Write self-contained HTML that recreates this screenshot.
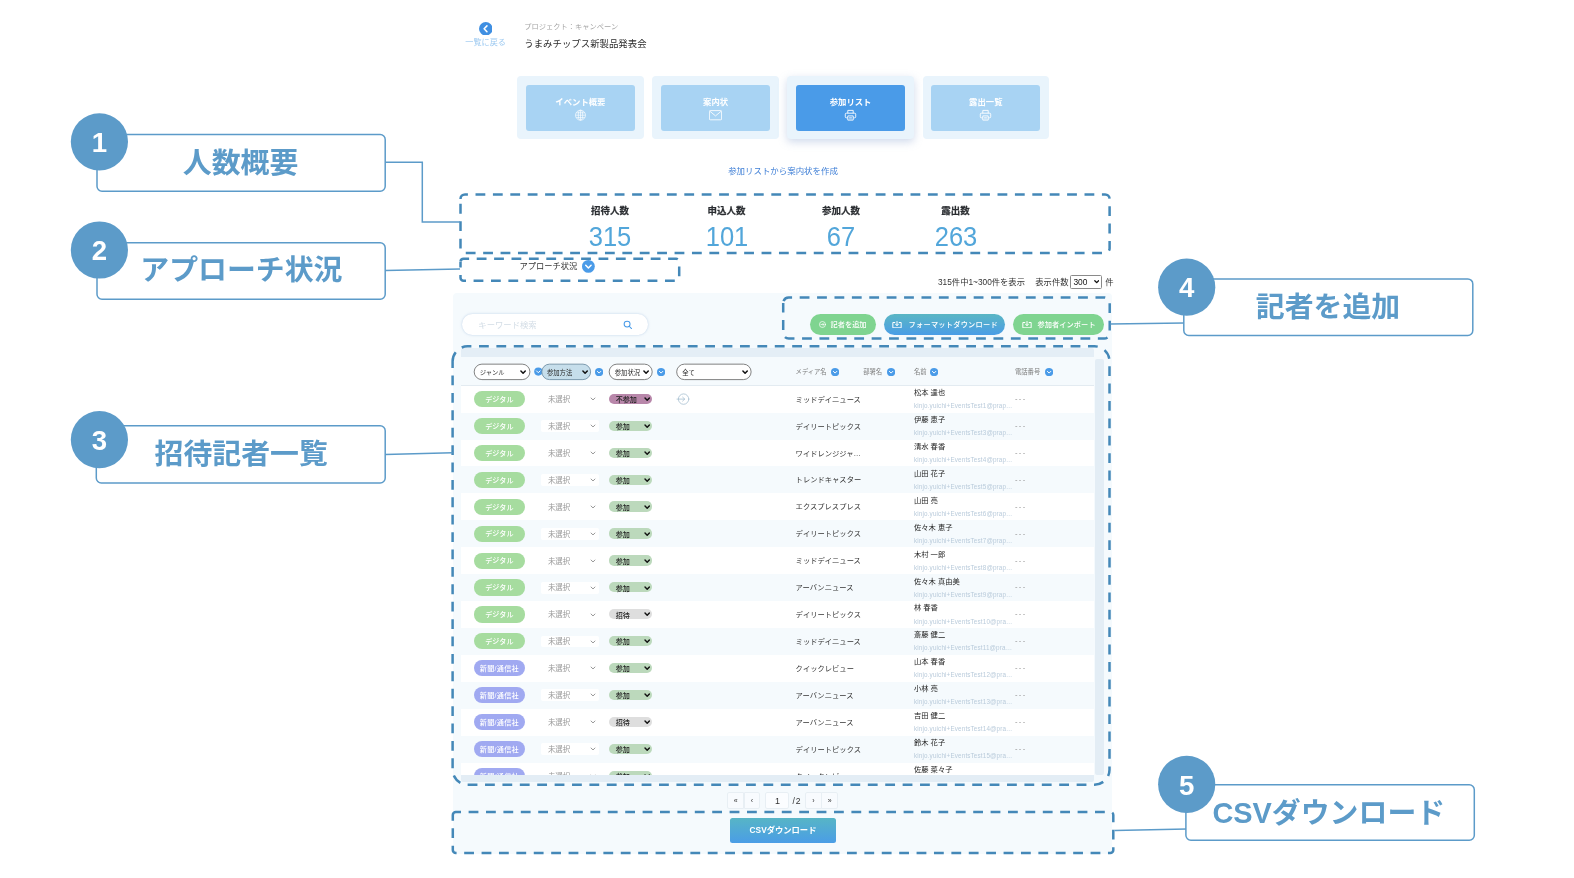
<!DOCTYPE html><html lang="ja"><head><meta charset="utf-8"><title>参加リスト</title><style>
*{box-sizing:border-box}
html,body{margin:0;padding:0}
body{width:1574px;height:878px;position:relative;overflow:hidden;background:#fff;will-change:transform;font-family:"Liberation Sans", "Noto Sans CJK JP", sans-serif;color:#333}
.a{position:absolute;white-space:nowrap}
.t{position:absolute;white-space:nowrap;line-height:1;transform:translateY(-50%)}
.tc{position:absolute;white-space:nowrap;line-height:1;transform:translate(-50%,-50%)}
.card{position:absolute;background:#e9f4fc;border-radius:4px}
.card i{position:absolute;left:8.6px;right:8.7px;top:8.4px;bottom:8.2px;border-radius:3px;background:#a8d3f3;display:block}
.card.on{box-shadow:0 3px 8px rgba(120,150,200,.35)}
.card.on i{background:#4a9be8}
.card b{position:absolute;left:0;right:0;top:20.5px;text-align:center;color:#fff;font-size:8.35px;line-height:10px;font-weight:700}
.card svg{position:absolute;left:50%;top:32.6px;margin-left:-6.5px}
.lab{position:absolute;font-size:9.45px;font-weight:700;color:#2a2d31;-webkit-text-stroke:.22px #2a2d31;line-height:1;transform:translate(-50%,-50%);white-space:nowrap}
.num{position:absolute;font-size:27.6px;font-weight:300;color:#52a6da;line-height:1;transform:translate(-50%,-50%) scaleX(.925);white-space:nowrap}
.sel{position:absolute;height:15.5px;font-size:6.3px;line-height:15.5px;padding-left:5.6px;padding-top:.5px;color:#2a2a2a;white-space:nowrap}
.chev{position:absolute}
.row{position:absolute;left:461px;width:633.3px;height:26.92px;background:#fff}
.row.e{background:#f5fafd}
.pill{position:absolute;left:12.9px;top:5.3px;width:51px;height:16.2px;border-radius:8.1px;color:#fff;font-size:7.1px;line-height:16.2px;padding-top:.9px;text-align:center;font-weight:500}
.g{background:#a6dc9f}
.p{background:#a0a9f1;letter-spacing:.3px}
.ms{position:absolute;left:86.9px;top:14.3px;font-size:7.45px;color:#999;line-height:1;transform:translateY(-50%)}
.msb{position:absolute;left:80.3px;top:7.6px;width:58px;height:11.8px;background:#fff;border-radius:2px}
.st{position:absolute;left:148.1px;top:8.1px;width:43px;height:10.2px;border-radius:5.1px;font-size:7.1px;line-height:10.2px;padding-left:6.6px;padding-top:1.4px;color:#222;font-weight:500}
.st.y{background:#bcd9bc}
.st.n{background:#b887aa}
.st.i{background:#dedede}
.md{position:absolute;left:334.6px;top:14px;font-size:7.3px;color:#333;line-height:1;transform:translateY(-50%);font-weight:400}
.nm{position:absolute;left:453px;top:7.4px;font-size:7.3px;color:#222;line-height:1;transform:translateY(-50%);font-weight:400}
.em{position:absolute;left:453px;top:20.5px;font-size:6.3px;letter-spacing:.15px;color:#b9cbdb;line-height:1;transform:translateY(-50%)}
.ph{position:absolute;left:554px;top:13.3px;font-size:7.6px;color:#8f8f8f;line-height:1;transform:translateY(-50%);letter-spacing:1.3px}
.hd{position:absolute;font-size:6.3px;color:#7c7c7c;line-height:1;transform:translateY(-50%);white-space:nowrap}
.btn{position:absolute;top:314.2px;height:21px;border-radius:10.5px;color:#fff;font-size:7.2px;font-weight:500;line-height:21px;white-space:nowrap}
.pg{position:absolute;top:792.3px;height:16.8px;background:#f8fbfe;border:1px solid #e8eff4;font-size:7px;line-height:15px;text-align:center;color:#333}
</style></head><body>
<svg class="a" style="left:478.9px;top:21.6px" width="13.6" height="13.6" viewBox="0 0 13 13"><circle cx="6.5" cy="6.5" r="6.5" fill="#3f8fe2"/><path d="M7.6 3.7 L4.9 6.5 L7.6 9.3" fill="none" stroke="#fff" stroke-width="1.5" stroke-linecap="round" stroke-linejoin="round"/></svg>
<div class="tc" style="left:485.6px;top:42.6px;font-size:8.15px;color:#9ecaf1">一覧に戻る</div>
<div class="t" style="left:524.3px;top:27px;font-size:7.25px;color:#a5a5a5">プロジェクト：キャンペーン</div>
<div class="t" style="left:524.3px;top:44.1px;font-size:9.42px;color:#2c2c2c">うまみチップス新製品発表会</div>
<div class="card" style="left:517.1px;top:76.2px;width:126.6px;height:62.8px"><i></i><b>イベント概要</b><svg width="13" height="12" viewBox="0 0 13 12" fill="none" stroke="#fff" stroke-width="0.65"><circle cx="6.5" cy="6.2" r="5"/><ellipse cx="6.5" cy="6.2" rx="2.2" ry="5"/><path d="M1.5 6.2H11.5M2.2 3.8H10.8M2.2 8.6H10.8M6.5 1.2V11.2"/></svg></div>
<div class="card" style="left:652.3px;top:76.2px;width:126.6px;height:62.8px"><i></i><b>案内状</b><svg width="13" height="12" viewBox="0 0 13 12" fill="none" stroke="#fff" stroke-width="0.85" stroke-linejoin="round"><rect x="0.4" y="1.6" width="12.2" height="9.2" rx="0.8"/><path d="M0.8 2.2 L6.5 6.9 L12.2 2.2"/></svg></div>
<div class="card on" style="left:787.3px;top:76.2px;width:126.6px;height:62.8px"><i></i><b>参加リスト</b><svg width="13" height="12" viewBox="0 0 13 12" fill="none" stroke="#fff" stroke-width="0.9" stroke-linejoin="round"><path d="M3.8 4.2V1.4H9.2V4.2"/><path d="M3.7 8.8H2.3A1 1 0 0 1 1.3 7.8V5.2A1 1 0 0 1 2.3 4.2H10.7A1 1 0 0 1 11.7 5.2V7.8A1 1 0 0 1 10.7 8.8H9.3"/><rect x="3.8" y="6.9" width="5.4" height="4.2"/><path d="M5.1 8.5H7.9M5.1 9.8H7.9" stroke-width="0.6"/></svg></div>
<div class="card" style="left:922.5px;top:76.2px;width:126.6px;height:62.8px"><i></i><b>露出一覧</b><svg width="13" height="12" viewBox="0 0 13 12" fill="none" stroke="#fff" stroke-width="0.9" stroke-linejoin="round"><path d="M3.8 4.2V1.4H9.2V4.2"/><path d="M3.7 8.8H2.3A1 1 0 0 1 1.3 7.8V5.2A1 1 0 0 1 2.3 4.2H10.7A1 1 0 0 1 11.7 5.2V7.8A1 1 0 0 1 10.7 8.8H9.3"/><rect x="3.8" y="6.9" width="5.4" height="4.2"/><path d="M5.1 8.5H7.9M5.1 9.8H7.9" stroke-width="0.6"/></svg></div>
<div class="tc" style="left:783px;top:171px;font-size:8.45px;color:#3f7fd6">参加リストから案内状を作成</div>
<div class="lab" style="left:610px;top:210.6px">招待人数</div>
<div class="num" style="left:610px;top:237.4px">315</div>
<div class="lab" style="left:726.5px;top:210.6px">申込人数</div>
<div class="num" style="left:726.5px;top:237.4px">101</div>
<div class="lab" style="left:841px;top:210.6px">参加人数</div>
<div class="num" style="left:841px;top:237.4px">67</div>
<div class="lab" style="left:955.5px;top:210.6px">露出数</div>
<div class="num" style="left:955.5px;top:237.4px">263</div>
<div class="t" style="left:519.5px;top:267.1px;font-size:8.26px;color:#333">アプローチ状況</div>
<svg class="a" style="left:582.20px;top:260.30px" width="12.8" height="12.8" viewBox="0 0 10 10"><circle cx="5" cy="5" r="5" fill="#4a9be8"/><path d="M2.9 4.1 L5 6.2 L7.1 4.1" fill="none" stroke="#fff" stroke-width="1.2" stroke-linecap="round" stroke-linejoin="round"/></svg>
<div class="t" style="left:938px;top:282.3px;font-size:8.3px;color:#333">315件中1~300件を表示</div>
<div class="t" style="left:1035.3px;top:282.3px;font-size:8.3px;color:#333">表示件数</div>
<div class="a" style="left:1070px;top:274.9px;width:32.4px;height:13.8px;border:1px solid #8a8a8a;background:#fff;border-radius:1.5px;font-size:8.4px;line-height:12px;padding-left:2.4px;color:#111">300</div>
<svg class="a" style="left:1093.60px;top:279.10px" width="5.4" height="5.4" viewBox="0 0 10 10"><path d="M1.5 3.2 L5 6.8 L8.5 3.2" fill="none" stroke="#111" stroke-width="2.41" stroke-linecap="round" stroke-linejoin="round"/></svg>
<div class="t" style="left:1105.2px;top:282.3px;font-size:8.3px;color:#333">件</div>
<div class="a" style="left:453px;top:293.2px;width:659.4px;height:560.6px;background:#f5fafd;border-radius:4px"></div>
<div class="a" style="left:462.3px;top:314.2px;width:186.1px;height:20.8px;border-radius:10.4px;background:#fff;box-shadow:0 0 2.5px rgba(140,175,215,.55)"></div>
<div class="t" style="left:478.3px;top:324.8px;font-size:8.35px;color:#d3dde6">キーワード検索</div>
<svg class="a" style="left:623.3px;top:320.4px" width="9.6" height="9.6" viewBox="0 0 11 11" fill="none" stroke="#4a9be8" stroke-width="1.15" stroke-linecap="round"><circle cx="4.7" cy="4.7" r="3.4"/><path d="M7.3 7.3L9.8 9.8"/></svg>
<div class="btn" style="left:810px;width:66.3px;background:#7fd490;padding-left:20.6px"><svg class="a" style="left:9px;top:7px" width="7" height="7" viewBox="0 0 10 10" fill="none" stroke="#fff" stroke-width="1" stroke-linecap="round" stroke-linejoin="round"><circle cx="5" cy="5" r="4.3"/><path d="M2.8 5H7M5.4 3.3L7.1 5L5.4 6.7"/></svg>記者を追加</div>
<div class="btn" style="left:884px;width:121px;background:linear-gradient(180deg,#5ab6c4 0%,#4a9de6 100%);padding-left:24.6px;letter-spacing:.25px"><svg class="a" style="left:8.4px;top:6.6px" width="10" height="7.5" viewBox="0 0 12 9" fill="none" stroke="#fff" stroke-width="1.2" stroke-linecap="round" stroke-linejoin="round"><path d="M3.4 1.8H1V8.2H11V1.8H8.6"/><path d="M6 0.6V5.4M4.2 3.7L6 5.5L7.8 3.7"/></svg>フォーマットダウンロード</div>
<div class="btn" style="left:1013.2px;width:91.3px;background:#7fd490;padding-left:24.2px;letter-spacing:.1px"><svg class="a" style="left:8.6px;top:6.6px" width="10" height="7.5" viewBox="0 0 12 9" fill="none" stroke="#fff" stroke-width="1.2" stroke-linecap="round" stroke-linejoin="round"><path d="M3.4 1.8H1V8.2H11V1.8H8.6"/><path d="M6 0.6V5.4M4.2 3.7L6 5.5L7.8 3.7"/></svg>参加者インポート</div>
<div class="a" style="left:461px;top:348.3px;width:633.3px;height:8.8px;background:#e4eef6;border-radius:2px 2px 0 0"></div>
<div class="a" style="left:1095px;top:359px;width:9.4px;height:415.8px;background:#e3edf5;border-radius:2px"></div>
<div class="a" style="left:461px;top:385px;width:633.3px;height:1px;background:#e3ebf1"></div>
<svg class="a" style="left:0;top:0" width="1574" height="400" viewBox="0 0 1574 400"><circle cx="538.3" cy="371.6" r="4.1" fill="#4a9be8"/><path d="M536.5 370.9L538.3 372.7L540.1 370.9" fill="none" stroke="#fff" stroke-width="1" stroke-linecap="round" stroke-linejoin="round"/><rect x="474.2" y="364.15" width="55.7" height="15.45" rx="7.7" fill="#fff" stroke="#6b6b6b" stroke-width=".85"/><rect x="541.8" y="364.15" width="48.8" height="15.45" rx="7.7" fill="#c6deeb" stroke="#6a8aa0" stroke-width=".85"/><rect x="609.2" y="364.15" width="43" height="15.45" rx="7.7" fill="#fff" stroke="#6b6b6b" stroke-width=".85"/><rect x="676.7" y="364.15" width="74.4" height="15.45" rx="7.7" fill="#fff" stroke="#6b6b6b" stroke-width=".85"/></svg>
<div class="sel" style="left:474.2px;top:364.1px;width:55.6px">ジャンル</div><svg class="a" style="left:520.40px;top:368.90px" width="6.2" height="6.2" viewBox="0 0 10 10"><path d="M1.5 3.2 L5 6.8 L8.5 3.2" fill="none" stroke="#111" stroke-width="2.42" stroke-linecap="round" stroke-linejoin="round"/></svg>
<div class="sel" style="left:541.4px;top:364.1px;width:49px">参加方法</div><svg class="a" style="left:581.60px;top:368.90px" width="6.2" height="6.2" viewBox="0 0 10 10"><path d="M1.5 3.2 L5 6.8 L8.5 3.2" fill="none" stroke="#111" stroke-width="2.42" stroke-linecap="round" stroke-linejoin="round"/></svg>
<svg class="a" style="left:594.80px;top:367.50px" width="8.2" height="8.2" viewBox="0 0 10 10"><circle cx="5" cy="5" r="5" fill="#4a9be8"/><path d="M2.9 4.1 L5 6.2 L7.1 4.1" fill="none" stroke="#fff" stroke-width="1.2" stroke-linecap="round" stroke-linejoin="round"/></svg>
<div class="sel" style="left:609.2px;top:364.1px;width:43px">参加状況</div><svg class="a" style="left:643.10px;top:368.90px" width="6.2" height="6.2" viewBox="0 0 10 10"><path d="M1.5 3.2 L5 6.8 L8.5 3.2" fill="none" stroke="#111" stroke-width="2.42" stroke-linecap="round" stroke-linejoin="round"/></svg>
<svg class="a" style="left:656.90px;top:367.50px" width="8.2" height="8.2" viewBox="0 0 10 10"><circle cx="5" cy="5" r="5" fill="#4a9be8"/><path d="M2.9 4.1 L5 6.2 L7.1 4.1" fill="none" stroke="#fff" stroke-width="1.2" stroke-linecap="round" stroke-linejoin="round"/></svg>
<div class="sel" style="left:676.6px;top:364.1px;width:74.4px">全て</div><svg class="a" style="left:741.90px;top:368.90px" width="6.2" height="6.2" viewBox="0 0 10 10"><path d="M1.5 3.2 L5 6.8 L8.5 3.2" fill="none" stroke="#111" stroke-width="2.42" stroke-linecap="round" stroke-linejoin="round"/></svg>
<div class="hd" style="left:795.6px;top:372.2px">メディア名</div><svg class="a" style="left:830.60px;top:367.50px" width="8.2" height="8.2" viewBox="0 0 10 10"><circle cx="5" cy="5" r="5" fill="#4a9be8"/><path d="M2.9 4.1 L5 6.2 L7.1 4.1" fill="none" stroke="#fff" stroke-width="1.2" stroke-linecap="round" stroke-linejoin="round"/></svg>
<div class="hd" style="left:863.2px;top:372.2px">部署名</div><svg class="a" style="left:886.60px;top:367.50px" width="8.2" height="8.2" viewBox="0 0 10 10"><circle cx="5" cy="5" r="5" fill="#4a9be8"/><path d="M2.9 4.1 L5 6.2 L7.1 4.1" fill="none" stroke="#fff" stroke-width="1.2" stroke-linecap="round" stroke-linejoin="round"/></svg>
<div class="hd" style="left:914px;top:372.2px">名前</div><svg class="a" style="left:930.20px;top:367.50px" width="8.2" height="8.2" viewBox="0 0 10 10"><circle cx="5" cy="5" r="5" fill="#4a9be8"/><path d="M2.9 4.1 L5 6.2 L7.1 4.1" fill="none" stroke="#fff" stroke-width="1.2" stroke-linecap="round" stroke-linejoin="round"/></svg>
<div class="hd" style="left:1015px;top:372.2px">電話番号</div><svg class="a" style="left:1045.10px;top:367.50px" width="8.2" height="8.2" viewBox="0 0 10 10"><circle cx="5" cy="5" r="5" fill="#4a9be8"/><path d="M2.9 4.1 L5 6.2 L7.1 4.1" fill="none" stroke="#fff" stroke-width="1.2" stroke-linecap="round" stroke-linejoin="round"/></svg>
<div class="a" style="left:0;top:0;width:1574px;height:775.5px;overflow:hidden">
<div class="row" style="top:385.70px"><div class="pill g">デジタル</div><div class="ms">未選択</div><svg class="a" style="left:129.4px;top:10.6px" width="6" height="6" viewBox="0 0 10 10"><path d="M1.8 3.4 L5 6.6 L8.2 3.4" fill="none" stroke="#888" stroke-width="1.5" stroke-linecap="round" stroke-linejoin="round"/></svg><div class="st n">不参加</div><svg class="a" style="left:182.6px;top:10.4px" width="6.4" height="6.4" viewBox="0 0 10 10"><path d="M1.6 3.2 L5 6.7 L8.4 3.2" fill="none" stroke="#111" stroke-width="2.2" stroke-linecap="round" stroke-linejoin="round"/></svg><svg class="a" style="left:215.2px;top:7.4px" width="14" height="12" viewBox="0 0 14 12" fill="none" stroke="#a3bccf" stroke-width="0.75" stroke-linecap="round" stroke-linejoin="round"><circle cx="7.6" cy="6.1" r="5.2"/><path d="M1 6.1H8.6M6.6 4.1L8.7 6.1L6.6 8.1"/></svg><div class="md">ミッドデイニュース</div><div class="nm">松本 達也</div><div class="em">kinjo.yuichi+EventsTest1@prap…</div><div class="ph">---</div></div>
<div class="row e" style="top:412.62px"><div class="pill g">デジタル</div><div class="msb"></div><div class="ms">未選択</div><svg class="a" style="left:129.4px;top:10.6px" width="6" height="6" viewBox="0 0 10 10"><path d="M1.8 3.4 L5 6.6 L8.2 3.4" fill="none" stroke="#888" stroke-width="1.5" stroke-linecap="round" stroke-linejoin="round"/></svg><div class="st y">参加</div><svg class="a" style="left:182.6px;top:10.4px" width="6.4" height="6.4" viewBox="0 0 10 10"><path d="M1.6 3.2 L5 6.7 L8.4 3.2" fill="none" stroke="#111" stroke-width="2.2" stroke-linecap="round" stroke-linejoin="round"/></svg><div class="md">デイリートピックス</div><div class="nm">伊藤 恵子</div><div class="em">kinjo.yuichi+EventsTest3@prap…</div><div class="ph">---</div></div>
<div class="row" style="top:439.54px"><div class="pill g">デジタル</div><div class="ms">未選択</div><svg class="a" style="left:129.4px;top:10.6px" width="6" height="6" viewBox="0 0 10 10"><path d="M1.8 3.4 L5 6.6 L8.2 3.4" fill="none" stroke="#888" stroke-width="1.5" stroke-linecap="round" stroke-linejoin="round"/></svg><div class="st y">参加</div><svg class="a" style="left:182.6px;top:10.4px" width="6.4" height="6.4" viewBox="0 0 10 10"><path d="M1.6 3.2 L5 6.7 L8.4 3.2" fill="none" stroke="#111" stroke-width="2.2" stroke-linecap="round" stroke-linejoin="round"/></svg><div class="md">ワイドレンジジャ…</div><div class="nm">清水 春香</div><div class="em">kinjo.yuichi+EventsTest4@prap…</div><div class="ph">---</div></div>
<div class="row e" style="top:466.46px"><div class="pill g">デジタル</div><div class="msb"></div><div class="ms">未選択</div><svg class="a" style="left:129.4px;top:10.6px" width="6" height="6" viewBox="0 0 10 10"><path d="M1.8 3.4 L5 6.6 L8.2 3.4" fill="none" stroke="#888" stroke-width="1.5" stroke-linecap="round" stroke-linejoin="round"/></svg><div class="st y">参加</div><svg class="a" style="left:182.6px;top:10.4px" width="6.4" height="6.4" viewBox="0 0 10 10"><path d="M1.6 3.2 L5 6.7 L8.4 3.2" fill="none" stroke="#111" stroke-width="2.2" stroke-linecap="round" stroke-linejoin="round"/></svg><div class="md">トレンドキャスター</div><div class="nm">山田 花子</div><div class="em">kinjo.yuichi+EventsTest5@prap…</div><div class="ph">---</div></div>
<div class="row" style="top:493.38px"><div class="pill g">デジタル</div><div class="ms">未選択</div><svg class="a" style="left:129.4px;top:10.6px" width="6" height="6" viewBox="0 0 10 10"><path d="M1.8 3.4 L5 6.6 L8.2 3.4" fill="none" stroke="#888" stroke-width="1.5" stroke-linecap="round" stroke-linejoin="round"/></svg><div class="st y">参加</div><svg class="a" style="left:182.6px;top:10.4px" width="6.4" height="6.4" viewBox="0 0 10 10"><path d="M1.6 3.2 L5 6.7 L8.4 3.2" fill="none" stroke="#111" stroke-width="2.2" stroke-linecap="round" stroke-linejoin="round"/></svg><div class="md">エクスプレスプレス</div><div class="nm">山田 亮</div><div class="em">kinjo.yuichi+EventsTest6@prap…</div><div class="ph">---</div></div>
<div class="row e" style="top:520.30px"><div class="pill g">デジタル</div><div class="msb"></div><div class="ms">未選択</div><svg class="a" style="left:129.4px;top:10.6px" width="6" height="6" viewBox="0 0 10 10"><path d="M1.8 3.4 L5 6.6 L8.2 3.4" fill="none" stroke="#888" stroke-width="1.5" stroke-linecap="round" stroke-linejoin="round"/></svg><div class="st y">参加</div><svg class="a" style="left:182.6px;top:10.4px" width="6.4" height="6.4" viewBox="0 0 10 10"><path d="M1.6 3.2 L5 6.7 L8.4 3.2" fill="none" stroke="#111" stroke-width="2.2" stroke-linecap="round" stroke-linejoin="round"/></svg><div class="md">デイリートピックス</div><div class="nm">佐々木 恵子</div><div class="em">kinjo.yuichi+EventsTest7@prap…</div><div class="ph">---</div></div>
<div class="row" style="top:547.22px"><div class="pill g">デジタル</div><div class="ms">未選択</div><svg class="a" style="left:129.4px;top:10.6px" width="6" height="6" viewBox="0 0 10 10"><path d="M1.8 3.4 L5 6.6 L8.2 3.4" fill="none" stroke="#888" stroke-width="1.5" stroke-linecap="round" stroke-linejoin="round"/></svg><div class="st y">参加</div><svg class="a" style="left:182.6px;top:10.4px" width="6.4" height="6.4" viewBox="0 0 10 10"><path d="M1.6 3.2 L5 6.7 L8.4 3.2" fill="none" stroke="#111" stroke-width="2.2" stroke-linecap="round" stroke-linejoin="round"/></svg><div class="md">ミッドデイニュース</div><div class="nm">木村 一郎</div><div class="em">kinjo.yuichi+EventsTest8@prap…</div><div class="ph">---</div></div>
<div class="row e" style="top:574.14px"><div class="pill g">デジタル</div><div class="msb"></div><div class="ms">未選択</div><svg class="a" style="left:129.4px;top:10.6px" width="6" height="6" viewBox="0 0 10 10"><path d="M1.8 3.4 L5 6.6 L8.2 3.4" fill="none" stroke="#888" stroke-width="1.5" stroke-linecap="round" stroke-linejoin="round"/></svg><div class="st y">参加</div><svg class="a" style="left:182.6px;top:10.4px" width="6.4" height="6.4" viewBox="0 0 10 10"><path d="M1.6 3.2 L5 6.7 L8.4 3.2" fill="none" stroke="#111" stroke-width="2.2" stroke-linecap="round" stroke-linejoin="round"/></svg><div class="md">アーバンニュース</div><div class="nm">佐々木 真由美</div><div class="em">kinjo.yuichi+EventsTest9@prap…</div><div class="ph">---</div></div>
<div class="row" style="top:601.06px"><div class="pill g">デジタル</div><div class="ms">未選択</div><svg class="a" style="left:129.4px;top:10.6px" width="6" height="6" viewBox="0 0 10 10"><path d="M1.8 3.4 L5 6.6 L8.2 3.4" fill="none" stroke="#888" stroke-width="1.5" stroke-linecap="round" stroke-linejoin="round"/></svg><div class="st i">招待</div><svg class="a" style="left:182.6px;top:10.4px" width="6.4" height="6.4" viewBox="0 0 10 10"><path d="M1.6 3.2 L5 6.7 L8.4 3.2" fill="none" stroke="#111" stroke-width="2.2" stroke-linecap="round" stroke-linejoin="round"/></svg><div class="md">デイリートピックス</div><div class="nm">林 春香</div><div class="em">kinjo.yuichi+EventsTest10@pra…</div><div class="ph">---</div></div>
<div class="row e" style="top:627.98px"><div class="pill g">デジタル</div><div class="msb"></div><div class="ms">未選択</div><svg class="a" style="left:129.4px;top:10.6px" width="6" height="6" viewBox="0 0 10 10"><path d="M1.8 3.4 L5 6.6 L8.2 3.4" fill="none" stroke="#888" stroke-width="1.5" stroke-linecap="round" stroke-linejoin="round"/></svg><div class="st y">参加</div><svg class="a" style="left:182.6px;top:10.4px" width="6.4" height="6.4" viewBox="0 0 10 10"><path d="M1.6 3.2 L5 6.7 L8.4 3.2" fill="none" stroke="#111" stroke-width="2.2" stroke-linecap="round" stroke-linejoin="round"/></svg><div class="md">ミッドデイニュース</div><div class="nm">斎藤 健二</div><div class="em">kinjo.yuichi+EventsTest11@pra…</div><div class="ph">---</div></div>
<div class="row" style="top:654.90px"><div class="pill p">新聞/通信社</div><div class="ms">未選択</div><svg class="a" style="left:129.4px;top:10.6px" width="6" height="6" viewBox="0 0 10 10"><path d="M1.8 3.4 L5 6.6 L8.2 3.4" fill="none" stroke="#888" stroke-width="1.5" stroke-linecap="round" stroke-linejoin="round"/></svg><div class="st y">参加</div><svg class="a" style="left:182.6px;top:10.4px" width="6.4" height="6.4" viewBox="0 0 10 10"><path d="M1.6 3.2 L5 6.7 L8.4 3.2" fill="none" stroke="#111" stroke-width="2.2" stroke-linecap="round" stroke-linejoin="round"/></svg><div class="md">クイックレビュー</div><div class="nm">山本 春香</div><div class="em">kinjo.yuichi+EventsTest12@pra…</div><div class="ph">---</div></div>
<div class="row e" style="top:681.82px"><div class="pill p">新聞/通信社</div><div class="msb"></div><div class="ms">未選択</div><svg class="a" style="left:129.4px;top:10.6px" width="6" height="6" viewBox="0 0 10 10"><path d="M1.8 3.4 L5 6.6 L8.2 3.4" fill="none" stroke="#888" stroke-width="1.5" stroke-linecap="round" stroke-linejoin="round"/></svg><div class="st y">参加</div><svg class="a" style="left:182.6px;top:10.4px" width="6.4" height="6.4" viewBox="0 0 10 10"><path d="M1.6 3.2 L5 6.7 L8.4 3.2" fill="none" stroke="#111" stroke-width="2.2" stroke-linecap="round" stroke-linejoin="round"/></svg><div class="md">アーバンニュース</div><div class="nm">小林 亮</div><div class="em">kinjo.yuichi+EventsTest13@pra…</div><div class="ph">---</div></div>
<div class="row" style="top:708.74px"><div class="pill p">新聞/通信社</div><div class="ms">未選択</div><svg class="a" style="left:129.4px;top:10.6px" width="6" height="6" viewBox="0 0 10 10"><path d="M1.8 3.4 L5 6.6 L8.2 3.4" fill="none" stroke="#888" stroke-width="1.5" stroke-linecap="round" stroke-linejoin="round"/></svg><div class="st i">招待</div><svg class="a" style="left:182.6px;top:10.4px" width="6.4" height="6.4" viewBox="0 0 10 10"><path d="M1.6 3.2 L5 6.7 L8.4 3.2" fill="none" stroke="#111" stroke-width="2.2" stroke-linecap="round" stroke-linejoin="round"/></svg><div class="md">アーバンニュース</div><div class="nm">吉田 健二</div><div class="em">kinjo.yuichi+EventsTest14@pra…</div><div class="ph">---</div></div>
<div class="row e" style="top:735.66px"><div class="pill p">新聞/通信社</div><div class="msb"></div><div class="ms">未選択</div><svg class="a" style="left:129.4px;top:10.6px" width="6" height="6" viewBox="0 0 10 10"><path d="M1.8 3.4 L5 6.6 L8.2 3.4" fill="none" stroke="#888" stroke-width="1.5" stroke-linecap="round" stroke-linejoin="round"/></svg><div class="st y">参加</div><svg class="a" style="left:182.6px;top:10.4px" width="6.4" height="6.4" viewBox="0 0 10 10"><path d="M1.6 3.2 L5 6.7 L8.4 3.2" fill="none" stroke="#111" stroke-width="2.2" stroke-linecap="round" stroke-linejoin="round"/></svg><div class="md">デイリートピックス</div><div class="nm">鈴木 花子</div><div class="em">kinjo.yuichi+EventsTest15@pra…</div><div class="ph">---</div></div>
<div class="row" style="top:762.58px"><div class="pill p">新聞/通信社</div><div class="ms">未選択</div><svg class="a" style="left:129.4px;top:10.6px" width="6" height="6" viewBox="0 0 10 10"><path d="M1.8 3.4 L5 6.6 L8.2 3.4" fill="none" stroke="#888" stroke-width="1.5" stroke-linecap="round" stroke-linejoin="round"/></svg><div class="st y">参加</div><svg class="a" style="left:182.6px;top:10.4px" width="6.4" height="6.4" viewBox="0 0 10 10"><path d="M1.6 3.2 L5 6.7 L8.4 3.2" fill="none" stroke="#111" stroke-width="2.2" stroke-linecap="round" stroke-linejoin="round"/></svg><div class="md">クイックレビュー</div><div class="nm">佐藤 菜々子</div><div class="em">kinjo.yuichi+EventsTest16@pra…</div><div class="ph">---</div></div>
</div>
<div class="a" style="left:461.2px;top:775.4px;width:633.3px;height:7px;background:#e3edf5;border-radius:0 0 2px 2px"></div>
<div class="pg" style="left:727.4px;width:16.6px;border-radius:2px 0 0 2px">«</div>
<div class="pg" style="left:743.6px;width:16.8px;border-radius:0 2px 2px 0">‹</div>
<div class="pg" style="left:765.4px;width:24px;border-radius:2px;background:#fbfdff;font-size:9px;line-height:16.4px">1</div>
<div class="t" style="left:792.4px;top:801.2px;font-size:8.6px;letter-spacing:.9px;color:#333">/2</div>
<div class="pg" style="left:805px;width:16.6px;border-radius:2px 0 0 2px">›</div>
<div class="pg" style="left:821.2px;width:16.8px;border-radius:0 2px 2px 0">»</div>
<div class="a" style="left:730.2px;top:818.2px;width:105.7px;height:24.7px;border-radius:2.5px;background:linear-gradient(180deg,#57b5c6 0%,#4a9de6 100%);color:#fff;font-size:8.3px;font-weight:700;line-height:24.6px;text-align:center">CSVダウンロード</div>
<svg class="a" style="left:0;top:0" width="1574" height="878" viewBox="0 0 1574 878" font-family='"Liberation Sans", "Noto Sans CJK JP", sans-serif'><path d="M460.5 198.9A4.5 4.5 0 0 1 465.0 194.4H1105.1A4.5 4.5 0 0 1 1109.6 198.9V248.4A4.5 4.5 0 0 1 1105.1 252.9H465.0A4.5 4.5 0 0 1 460.5 248.4Z" fill="none" stroke="#4488b8" stroke-width="2.5" stroke-dasharray="9.8 7.6" stroke-dashoffset="0"/><path d="M460.5 261.7A3 3 0 0 1 463.5 258.7H676.2A3 3 0 0 1 679.2 261.7V277.8A3 3 0 0 1 676.2 280.8H463.5A3 3 0 0 1 460.5 277.8Z" fill="none" stroke="#4488b8" stroke-width="2.5" stroke-dasharray="9.8 7.6" stroke-dashoffset="-0.4"/><path d="M783.2 303.0A5.5 5.5 0 0 1 788.7 297.5H1104.2A5.5 5.5 0 0 1 1109.7 303.0V333.1A5.5 5.5 0 0 1 1104.2 338.6H788.7A5.5 5.5 0 0 1 783.2 333.1Z" fill="none" stroke="#4488b8" stroke-width="2.5" stroke-dasharray="9.8 7.6" stroke-dashoffset="-2"/><path d="M452.6 361.3A15 15 0 0 1 467.6 346.3H1094.5A15 15 0 0 1 1109.5 361.3V769.7A15 15 0 0 1 1094.5 784.7H467.6A15 15 0 0 1 452.6 769.7Z" fill="none" stroke="#4488b8" stroke-width="2.5" stroke-dasharray="9.8 7.6" stroke-dashoffset="0"/><path d="M452.8 814.9A3 3 0 0 1 455.8 811.9H1110.3A3 3 0 0 1 1113.3 814.9V850.1A3 3 0 0 1 1110.3 853.1H455.8A3 3 0 0 1 452.8 850.1Z" fill="none" stroke="#4488b8" stroke-width="2.5" stroke-dasharray="9.8 7.6" stroke-dashoffset="0"/><g fill="none" stroke="#5c9bc9" stroke-width="1.5"><path d="M385 162.3H422.3V222H460"/><path d="M385 270.4L460 269"/><path d="M385 454.6L452.5 452.7"/><path d="M1110.5 324L1184 322.9"/><path d="M1114.5 830.4L1187 829"/></g><rect x="97" y="134.6" width="288.2" height="56.6" rx="5" fill="#fff" stroke="#5c9bc9" stroke-width="1.5"/><circle cx="99.4" cy="141.8" r="28.6" fill="#5c9bc9"/><text x="99.4" y="152.0" text-anchor="middle" font-size="27.6" font-weight="700" fill="#fff">1</text><text x="240.6" y="173.0" text-anchor="middle" font-size="28.9" font-weight="700" fill="#5c9bc9">人数概要</text><rect x="97" y="242.7" width="288.2" height="56.6" rx="5" fill="#fff" stroke="#5c9bc9" stroke-width="1.5"/><circle cx="99.4" cy="250" r="28.6" fill="#5c9bc9"/><text x="99.4" y="260.2" text-anchor="middle" font-size="27.6" font-weight="700" fill="#fff">2</text><text x="241.4" y="279.7" text-anchor="middle" font-size="28.9" font-weight="700" fill="#5c9bc9">アプローチ状況</text><rect x="96.3" y="425.8" width="288.9" height="57.2" rx="5" fill="#fff" stroke="#5c9bc9" stroke-width="1.5"/><circle cx="99.4" cy="439.7" r="28.6" fill="#5c9bc9"/><text x="99.4" y="449.9" text-anchor="middle" font-size="27.6" font-weight="700" fill="#fff">3</text><text x="241.2" y="464.0" text-anchor="middle" font-size="28.9" font-weight="700" fill="#5c9bc9">招待記者一覧</text><rect x="1183.8" y="278.9" width="289.0" height="56.5" rx="5" fill="#fff" stroke="#5c9bc9" stroke-width="1.5"/><circle cx="1186.7" cy="287.2" r="28.6" fill="#5c9bc9"/><text x="1186.7" y="297.4" text-anchor="middle" font-size="27.6" font-weight="700" fill="#fff">4</text><text x="1328" y="317.0" text-anchor="middle" font-size="28.9" font-weight="700" fill="#5c9bc9">記者を追加</text><rect x="1185.9" y="784.7" width="288.4" height="55.6" rx="5" fill="#fff" stroke="#5c9bc9" stroke-width="1.5"/><circle cx="1186.7" cy="784.3" r="28.6" fill="#5c9bc9"/><text x="1186.7" y="794.5" text-anchor="middle" font-size="27.6" font-weight="700" fill="#fff">5</text><text x="1328.8" y="822.5" text-anchor="middle" font-size="28.9" font-weight="700" fill="#5c9bc9">CSVダウンロード</text></svg>
</body></html>
